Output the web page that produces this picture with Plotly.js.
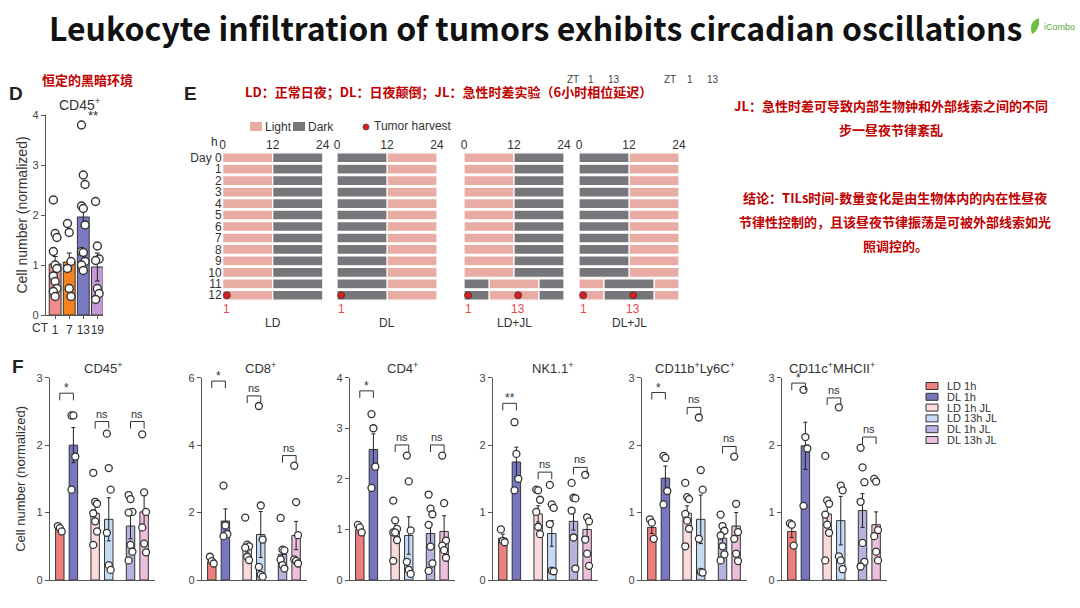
<!DOCTYPE html>
<html><head><meta charset="utf-8">
<script src="https://cdn.plot.ly/plotly-3.0.1.min.js"></script>
<style>html,body{margin:0;padding:0;background:#fff;}#chart{width:1080px;height:608px;}</style>
</head><body><div id="chart"></div>
<script>
// ---------- Panel D data ----------
const dCategories = ['1', '7', '13', '19'];
const dMeans = [1.02, 1.06, 1.96, 0.96];
const dErrors = [0.15, 0.18, 0.2, 0.28];
const dPointsCT1 = [2.3, 1.63, 1.55, 1.27, 1.0, 0.93, 0.78, 0.67, 0.53, 0.47, 0.37];
const dPointsCT7 = [1.83, 1.65, 1.07, 0.93, 0.53, 0.37];
const dPointsCT13 = [3.8, 2.8, 2.61, 2.18, 2.13, 1.8, 1.27, 1.25, 1.07, 1.0, 0.89];
const dPointsCT19 = [2.27, 1.38, 1.12, 1.09, 0.53, 0.43, 0.31];
const dYTicks = [0, 1, 2, 3, 4];

// ---------- Panel E data ----------
const eSchedules = ['LD', 'DL', 'LD+JL', 'DL+JL'];
const eDays = [0, 1, 2, 3, 4, 5, 6, 7, 8, 9, 10, 11, 12];
const eDayLabels = ['Day 0', '1', '2', '3', '4', '5', '6', '7', '8', '9', '10', '11', '12'];
const eHourTicks = [0, 12, 24];
const eStdBounds = [0, 12, 24];
const eJLBounds = [0, 6, 18, 24];
const eStartsLight = [true, false, true, false];
const eJLDays = [[], [], [11, 12], [11, 12]];
const eHarvestHours = [[1], [1], [1, 13], [1, 13]];
const eHarvestDay = 12;

// ---------- Panel F data ----------
const fMarkers = ['CD45<sup>+</sup>', 'CD8<sup>+</sup>', 'CD4<sup>+</sup>', 'NK1.1<sup>+</sup>',
  'CD11b<sup>+</sup>Ly6C<sup>+</sup>', 'CD11c<sup>+</sup>MHCII<sup>+</sup>'];
const fGroups = ['LD 1h', 'DL 1h', 'LD 1h JL', 'LD 13h JL', 'DL 1h JL', 'DL 13h JL'];
const fYMax = [3, 6, 4, 3, 3, 3];
const fYTicks = [[0, 1, 2, 3], [0, 2, 4, 6], [0, 1, 2, 3, 4], [0, 1, 2, 3], [0, 1, 2, 3], [0, 1, 2, 3]];
const fMeansCD45 = [0.77, 2.0, 0.99, 0.9, 0.8, 1.01];
const fMeansCD8 = [0.54, 1.75, 0.98, 1.35, 0.76, 1.32];
const fMeansCD4 = [1.0, 2.58, 1.0, 0.88, 0.92, 0.96];
const fMeansNK = [0.62, 1.75, 0.98, 0.69, 0.87, 0.75];
const fMeansCD11b = [0.78, 1.51, 0.99, 0.9, 0.62, 0.8];
const fMeansCD11c = [0.72, 1.99, 0.98, 0.88, 1.03, 0.82];
const fErrCD45 = [0.03, 0.26, 0.12, 0.32, 0.19, 0.25];
const fErrCD8 = [0.08, 0.36, 0.15, 0.68, 0.15, 0.42];
const fErrCD4 = [0.05, 0.31, 0.13, 0.37, 0.2, 0.31];
const fErrNK = [0.06, 0.22, 0.12, 0.19, 0.13, 0.11];
const fErrCD11b = [0.09, 0.18, 0.11, 0.36, 0.11, 0.2];
const fErrCD11c = [0.09, 0.35, 0.15, 0.36, 0.25, 0.19];
const fPtsCD45 = [[0.8, 0.77, 0.72], [2.44, 2.44, 1.83, 1.34], [1.59, 1.16, 1.13, 0.99, 0.87, 0.72, 0.52],
  [2.17, 1.66, 1.34, 0.70, 0.22, 0.15], [1.26, 1.2, 1.01, 1.0, 0.52, 0.42, 0.29], [2.16, 1.3, 1.01, 0.78, 0.54, 0.41]];
const fPtsCD8 = [[0.69, 0.56, 0.49], [2.8, 1.62, 1.36, 1.3], [1.85, 1.05, 1.0, 0.96, 0.69, 0.59],
  [5.16, 2.21, 1.2, 0.39, 0.15, 0.1], [1.84, 0.9, 0.88, 0.61, 0.44, 0.34], [3.39, 2.31, 1.33, 0.61, 0.57, 0.49]];
const fPtsCD4 = [[1.09, 1.04, 0.94], [3.28, 3.0, 2.24, 1.82], [1.57, 1.18, 1.01, 0.94, 0.94, 0.79, 0.38],
  [2.46, 1.95, 0.98, 0.36, 0.2, 0.12], [1.69, 1.41, 1.3, 1.09, 0.66, 0.33, 0.18], [2.46, 1.52, 0.78, 0.68, 0.59, 0.44]];
const fPtsNK = [[0.75, 0.58, 0.56], [2.34, 1.87, 1.5, 1.33], [1.34, 1.33, 1.19, 1.01, 0.79, 0.68],
  [1.41, 1.12, 1.07, 0.83, 0.14, 0.13], [1.44, 1.22, 1.21, 1.03, 0.63, 0.17], [1.56, 0.93, 0.87, 0.6, 0.39, 0.21]];
const fPtsCD11b = [[0.9, 0.85, 0.61], [1.84, 1.81, 1.32, 1.12], [1.44, 1.23, 1.2, 0.98, 0.88, 0.76, 0.5],
  [2.41, 1.63, 1.34, 0.61, 0.12, 0.11], [0.97, 0.8, 0.73, 0.66, 0.5, 0.38, 0.29], [1.83, 1.13, 0.71, 0.61, 0.39, 0.28]];
const fPtsCD11c = [[0.84, 0.82, 0.51], [2.82, 2.12, 1.95, 1.1], [1.84, 1.18, 1.13, 0.97, 0.82, 0.7, 0.29],
  [2.56, 1.4, 1.33, 0.35, 0.29, 0.16], [1.96, 1.67, 1.45, 1.16, 0.55, 0.27, 0.2], [1.5, 1.46, 0.74, 0.65, 0.42, 0.29]];
const fSigLabels = [['*', 'ns', 'ns'], ['*', 'ns', 'ns'], ['*', 'ns', 'ns'], ['**', 'ns', 'ns'], ['*', 'ns', 'ns'], ['*', 'ns', 'ns']];
const fSigHeights = [[2.77, 2.35, 2.35], [5.9, 5.46, 3.69], [3.74, 2.67, 2.67], [2.62, 1.6, 1.67], [2.78, 2.56, 1.98], [2.92, 2.7, 2.12]];

// ---------- helpers / styles ----------
const W = 1080, H = 608;
const X = px => px / W;
const Y = py => 1 - py / H;
const ARIAL = 'Arial, "Liberation Sans", sans-serif';
const CJK = '"Noto Sans CJK SC", "Noto Sans", sans-serif';
const RED = '#c00000';
const dColors = ['#f08c8c', '#f5821f', '#7b7bc4', '#c39ad3'];
const fColors = ['#ef7f7f', '#7777bf', '#fadada', '#c5dbf3', '#b7b3df', '#ecc0dc'];
const LIGHT = '#e8aca4', DARK = '#77777b';
const axisBase = {showline: true, linecolor: '#555', linewidth: 1.2, ticks: 'outside', ticklen: 4,
  tickcolor: '#555', tickfont: {size: 11, color: '#444', family: ARIAL}, zeroline: false, showgrid: false, fixedrange: true};

const traces = [];
const layout = {
  width: W, height: H, margin: {l: 0, r: 0, t: 0, b: 0}, paper_bgcolor: '#fff', plot_bgcolor: 'rgba(0,0,0,0)',
  showlegend: false, barmode: 'overlay', font: {family: ARIAL, color: '#333'},
  annotations: [], shapes: []
};
const ann = (o) => layout.annotations.push(Object.assign({showarrow: false, xref: 'paper', yref: 'paper',
  xanchor: 'center', yanchor: 'middle'}, o));
const jitter = i => ((i % 3) - 1) * 0.14;

// ---------- Panel D ----------
layout.xaxis = Object.assign({}, axisBase, {domain: [X(46), X(103)], range: [-0.65, 3.4], anchor: 'y',
  tickvals: [0, 1, 2, 3], ticktext: dCategories, ticklen: 3, tickangle: 0, tickfont: {size: 12, color: '#333', family: ARIAL}});
layout.yaxis = Object.assign({}, axisBase, {domain: [Y(315), Y(115)], range: [0, 4], anchor: 'x',
  tickvals: dYTicks, title: {text: 'Cell number (normalized)', font: {size: 14, color: '#333'}, standoff: 1}});
traces.push({type: 'bar', x: [0, 1, 2, 3], y: dMeans, width: 0.84, xaxis: 'x', yaxis: 'y', cliponaxis: false,
  marker: {color: dColors, line: {color: '#333', width: 1}},
  error_y: {type: 'data', array: dErrors, color: '#222', thickness: 1, width: 2.5}, hoverinfo: 'skip'});
[dPointsCT1, dPointsCT7, dPointsCT13, dPointsCT19].forEach((pts, k) => {
  traces.push({type: 'scatter', mode: 'markers', xaxis: 'x', yaxis: 'y', cliponaxis: false,
    x: pts.map((v, i) => k + jitter(i) * 0.9), y: pts,
    marker: {size: 8, color: '#fff', line: {color: '#333', width: 1.4}}, hoverinfo: 'skip'});
});
ann({xref: 'x', yref: 'y', x: 2.7, y: 4.0, text: '**', font: {size: 13, color: '#333'}});
ann({x: X(40), y: Y(328), text: 'CT', font: {size: 12, color: '#333'}});
ann({x: X(80), y: Y(104), text: 'CD45<sup>+</sup>', font: {size: 14, color: '#333'}});
ann({x: X(16), y: Y(93), text: '<b>D</b>', font: {size: 19, color: '#222'}});
ann({x: X(87), y: Y(80), text: '<b>恒定的黑暗环境</b>', font: {size: 13, color: RED, family: CJK}});

// ---------- Panel E ----------
const eLefts = [222.7, 337, 464, 579];
layout.yaxis2 = {domain: [Y(301), Y(152)], range: [12.5, -0.5], anchor: 'x2', tickvals: eDays, ticktext: eDayLabels,
  showline: false, ticks: '', zeroline: false, showgrid: false, fixedrange: true, tickfont: {size: 12, color: '#333'}};
eSchedules.forEach((name, s) => {
  const xa = 'xaxis' + (2 + s), xr = 'x' + (2 + s);
  layout[xa] = {domain: [X(eLefts[s]), X(eLefts[s] + 100)], range: [0, 24], anchor: 'y2', side: 'top',
    tickvals: eHourTicks, showline: false, ticks: '', zeroline: false, showgrid: false, fixedrange: true,
    tickfont: {size: 12, color: '#333'}};
  const seg = {Light: {y: [], base: [], x: []}, Dark: {y: [], base: [], x: []}};
  eDays.forEach(d => {
    const jl = eJLDays[s].includes(d);
    const b = jl ? eJLBounds : eStdBounds;
    let light = jl ? !eStartsLight[s] : eStartsLight[s];
    for (let i = 0; i < b.length - 1; i++) {
      const t = light ? 'Light' : 'Dark';
      seg[t].y.push(d); seg[t].base.push(b[i]); seg[t].x.push(b[i + 1] - b[i]);
      light = !light;
    }
  });
  ['Light', 'Dark'].forEach(t => {
    traces.push({type: 'bar', orientation: 'h', xaxis: xr, yaxis: 'y2', y: seg[t].y, x: seg[t].x, base: seg[t].base,
      width: 0.86, marker: {color: t === 'Light' ? LIGHT : DARK, line: {color: '#fff', width: 1.2}}, hoverinfo: 'skip'});
  });
  traces.push({type: 'scatter', mode: 'markers', xaxis: xr, yaxis: 'y2', cliponaxis: false,
    x: eHarvestHours[s], y: eHarvestHours[s].map(() => eHarvestDay),
    marker: {size: 7, color: '#e31a1c', line: {color: '#444', width: 1}}, hoverinfo: 'skip'});
  eHarvestHours[s].forEach(h => ann({xref: xr, x: h, y: Y(309), text: String(h), font: {size: 12, color: '#e8474a'}}));
  ann({xref: xr, x: 12, y: Y(323), text: name, font: {size: 12, color: '#333'}});
});
ann({x: X(214), y: Y(142), text: 'h', font: {size: 12, color: '#333'}});
// E legend
layout.shapes.push({type: 'rect', xref: 'paper', yref: 'paper', x0: X(250), x1: X(262), y0: Y(131), y1: Y(122), fillcolor: LIGHT, line: {width: 0}});
layout.shapes.push({type: 'rect', xref: 'paper', yref: 'paper', x0: X(293), x1: X(305), y0: Y(131), y1: Y(122), fillcolor: DARK, line: {width: 0}});
layout.shapes.push({type: 'circle', xref: 'paper', yref: 'paper', x0: X(363), x1: X(369), y0: Y(130), y1: Y(124), fillcolor: '#e31a1c', line: {color: '#444', width: 0.8}});
ann({x: X(263), y: Y(127), xanchor: 'left', text: 'Light', font: {size: 12, color: '#333'}});
ann({x: X(306), y: Y(127), xanchor: 'left', text: 'Dark', font: {size: 12, color: '#333'}});
ann({x: X(372), y: Y(126), xanchor: 'left', text: 'Tumor harvest', font: {size: 12, color: '#333'}});
ann({x: X(190), y: Y(93), text: '<b>E</b>', font: {size: 19, color: '#222'}});
// small ZT labels (just above the red text, as in the original)
[[573, 'ZT'], [591, '1'], [614, '13'], [670, 'ZT'], [690, '1'], [713, '13']].forEach(([px, t]) =>
  ann({x: X(px), y: Y(79), text: t, font: {size: 10, color: '#444'}}));
ann({x: X(448), y: Y(92), text: '<b>LD：正常日夜；DL：日夜颠倒；JL：急性时差实验（6小时相位延迟）</b>', font: {size: 13, color: RED, family: CJK}});

// ---------- Right text ----------
ann({x: X(891), y: Y(105), text: '<b>JL：急性时差可导致内部生物钟和外部线索之间的不同</b>', font: {size: 13, color: RED, family: CJK}});
ann({x: X(891), y: Y(130), text: '<b>步一昼夜节律紊乱</b>', font: {size: 13, color: RED, family: CJK}});
ann({x: X(895), y: Y(198), text: '<b>结论：TILs时间-数量变化是由生物体内的内在性昼夜</b>', font: {size: 13, color: RED, family: CJK}});
ann({x: X(895), y: Y(222), text: '<b>节律性控制的，且该昼夜节律振荡是可被外部线索如光</b>', font: {size: 13, color: RED, family: CJK}});
ann({x: X(895), y: Y(245), text: '<b>照调控的。</b>', font: {size: 13, color: RED, family: CJK}});

// ---------- Title & logo ----------
ann({x: X(535), y: Y(27), text: '<b>Leukocyte infiltration of tumors exhibits circadian oscillations</b>', font: {size: 32, color: '#111', family: CJK}});
ann({x: X(1059), y: Y(27), text: 'iCombo', font: {size: 9, color: '#5aab3c'}});
layout.shapes.push({type: 'path', xref: 'paper', yref: 'paper', fillcolor: '#6cbf3c', line: {width: 0},
  path: `M ${X(1032)} ${Y(34)} Q ${X(1028)} ${Y(22)} ${X(1039)} ${Y(18)} Q ${X(1040)} ${Y(30)} ${X(1032)} ${Y(34)} Z`});

// ---------- Panel F ----------
const fMeans = [fMeansCD45, fMeansCD8, fMeansCD4, fMeansNK, fMeansCD11b, fMeansCD11c];
const fErrs = [fErrCD45, fErrCD8, fErrCD4, fErrNK, fErrCD11b, fErrCD11c];
const fPts = [fPtsCD45, fPtsCD8, fPtsCD4, fPtsNK, fPtsCD11b, fPtsCD11c];
const fLefts = [50, 202, 350, 493, 642, 782];
const fTitleX = [103, 260, 402, 552, 695, 832];
const barPos = g => Math.floor(g / 2) * 2.6 + (g % 2);
fMarkers.forEach((m, k) => {
  const xa = 'xaxis' + (6 + k), ya = 'yaxis' + (3 + k), xr = 'x' + (6 + k), yr = 'y' + (3 + k);
  layout[xa] = Object.assign({}, axisBase, {domain: [X(fLefts[k]), X(fLefts[k] + 105)], range: [-0.72, 7.0],
    anchor: yr, showticklabels: false, ticks: ''});
  layout[ya] = Object.assign({}, axisBase, {domain: [Y(580), Y(377.7)], range: [0, fYMax[k]], anchor: xr,
    tickvals: fYTicks[k]});
  if (k === 0) layout[ya].title = {text: 'Cell number (normalized)', font: {size: 13, color: '#333'}, standoff: 8};
  const xs = fGroups.map((g, i) => barPos(i));
  traces.push({type: 'bar', x: xs, y: fMeans[k], width: 0.62, xaxis: xr, yaxis: yr, cliponaxis: false,
    marker: {color: fColors, line: {color: '#333', width: 1}},
    error_y: {type: 'data', array: fErrs[k], color: '#222', thickness: 1, width: 2}, hoverinfo: 'skip'});
  fPts[k].forEach((pts, g) => {
    traces.push({type: 'scatter', mode: 'markers', xaxis: xr, yaxis: yr, cliponaxis: false,
      x: pts.map((v, i) => barPos(g) + jitter(i)), y: pts,
      marker: {size: 7, color: '#fff', line: {color: '#333', width: 1.3}}, hoverinfo: 'skip'});
  });
  // significance brackets
  fSigLabels[k].forEach((lab, p) => {
    const h = fSigHeights[k][p], d = fYMax[k] * 0.035;
    const x0 = barPos(2 * p), x1 = barPos(2 * p + 1);
    traces.push({type: 'scatter', mode: 'lines', xaxis: xr, yaxis: yr, cliponaxis: false,
      x: [x0, x0, x1, x1], y: [h - d, h, h, h - d], line: {color: '#333', width: 1}, hoverinfo: 'skip'});
    ann({xref: xr, yref: yr, x: (x0 + x1) / 2, y: h, yanchor: 'bottom', yshift: lab === 'ns' ? 0 : -4,
      text: lab, font: {size: lab === 'ns' ? 11 : 12, color: '#333'}});
  });
  ann({x: X(fTitleX[k]), y: Y(368), text: m, font: {size: 13, color: '#333'}});
});
ann({x: X(18), y: Y(367), text: '<b>F</b>', font: {size: 19, color: '#222'}});
// F legend
fGroups.forEach((g, i) => {
  const yc = 386 + i * 10.8;
  layout.shapes.push({type: 'rect', xref: 'paper', yref: 'paper', x0: X(926), x1: X(938), y0: Y(yc + 3.5), y1: Y(yc - 3.5),
    fillcolor: fColors[i], line: {color: '#333', width: 1}});
  ann({x: X(945), y: Y(yc), xanchor: 'left', text: g, font: {size: 11, color: '#333'}});
});

Plotly.newPlot('chart', traces, layout, {staticPlot: true});
</script></body></html>
